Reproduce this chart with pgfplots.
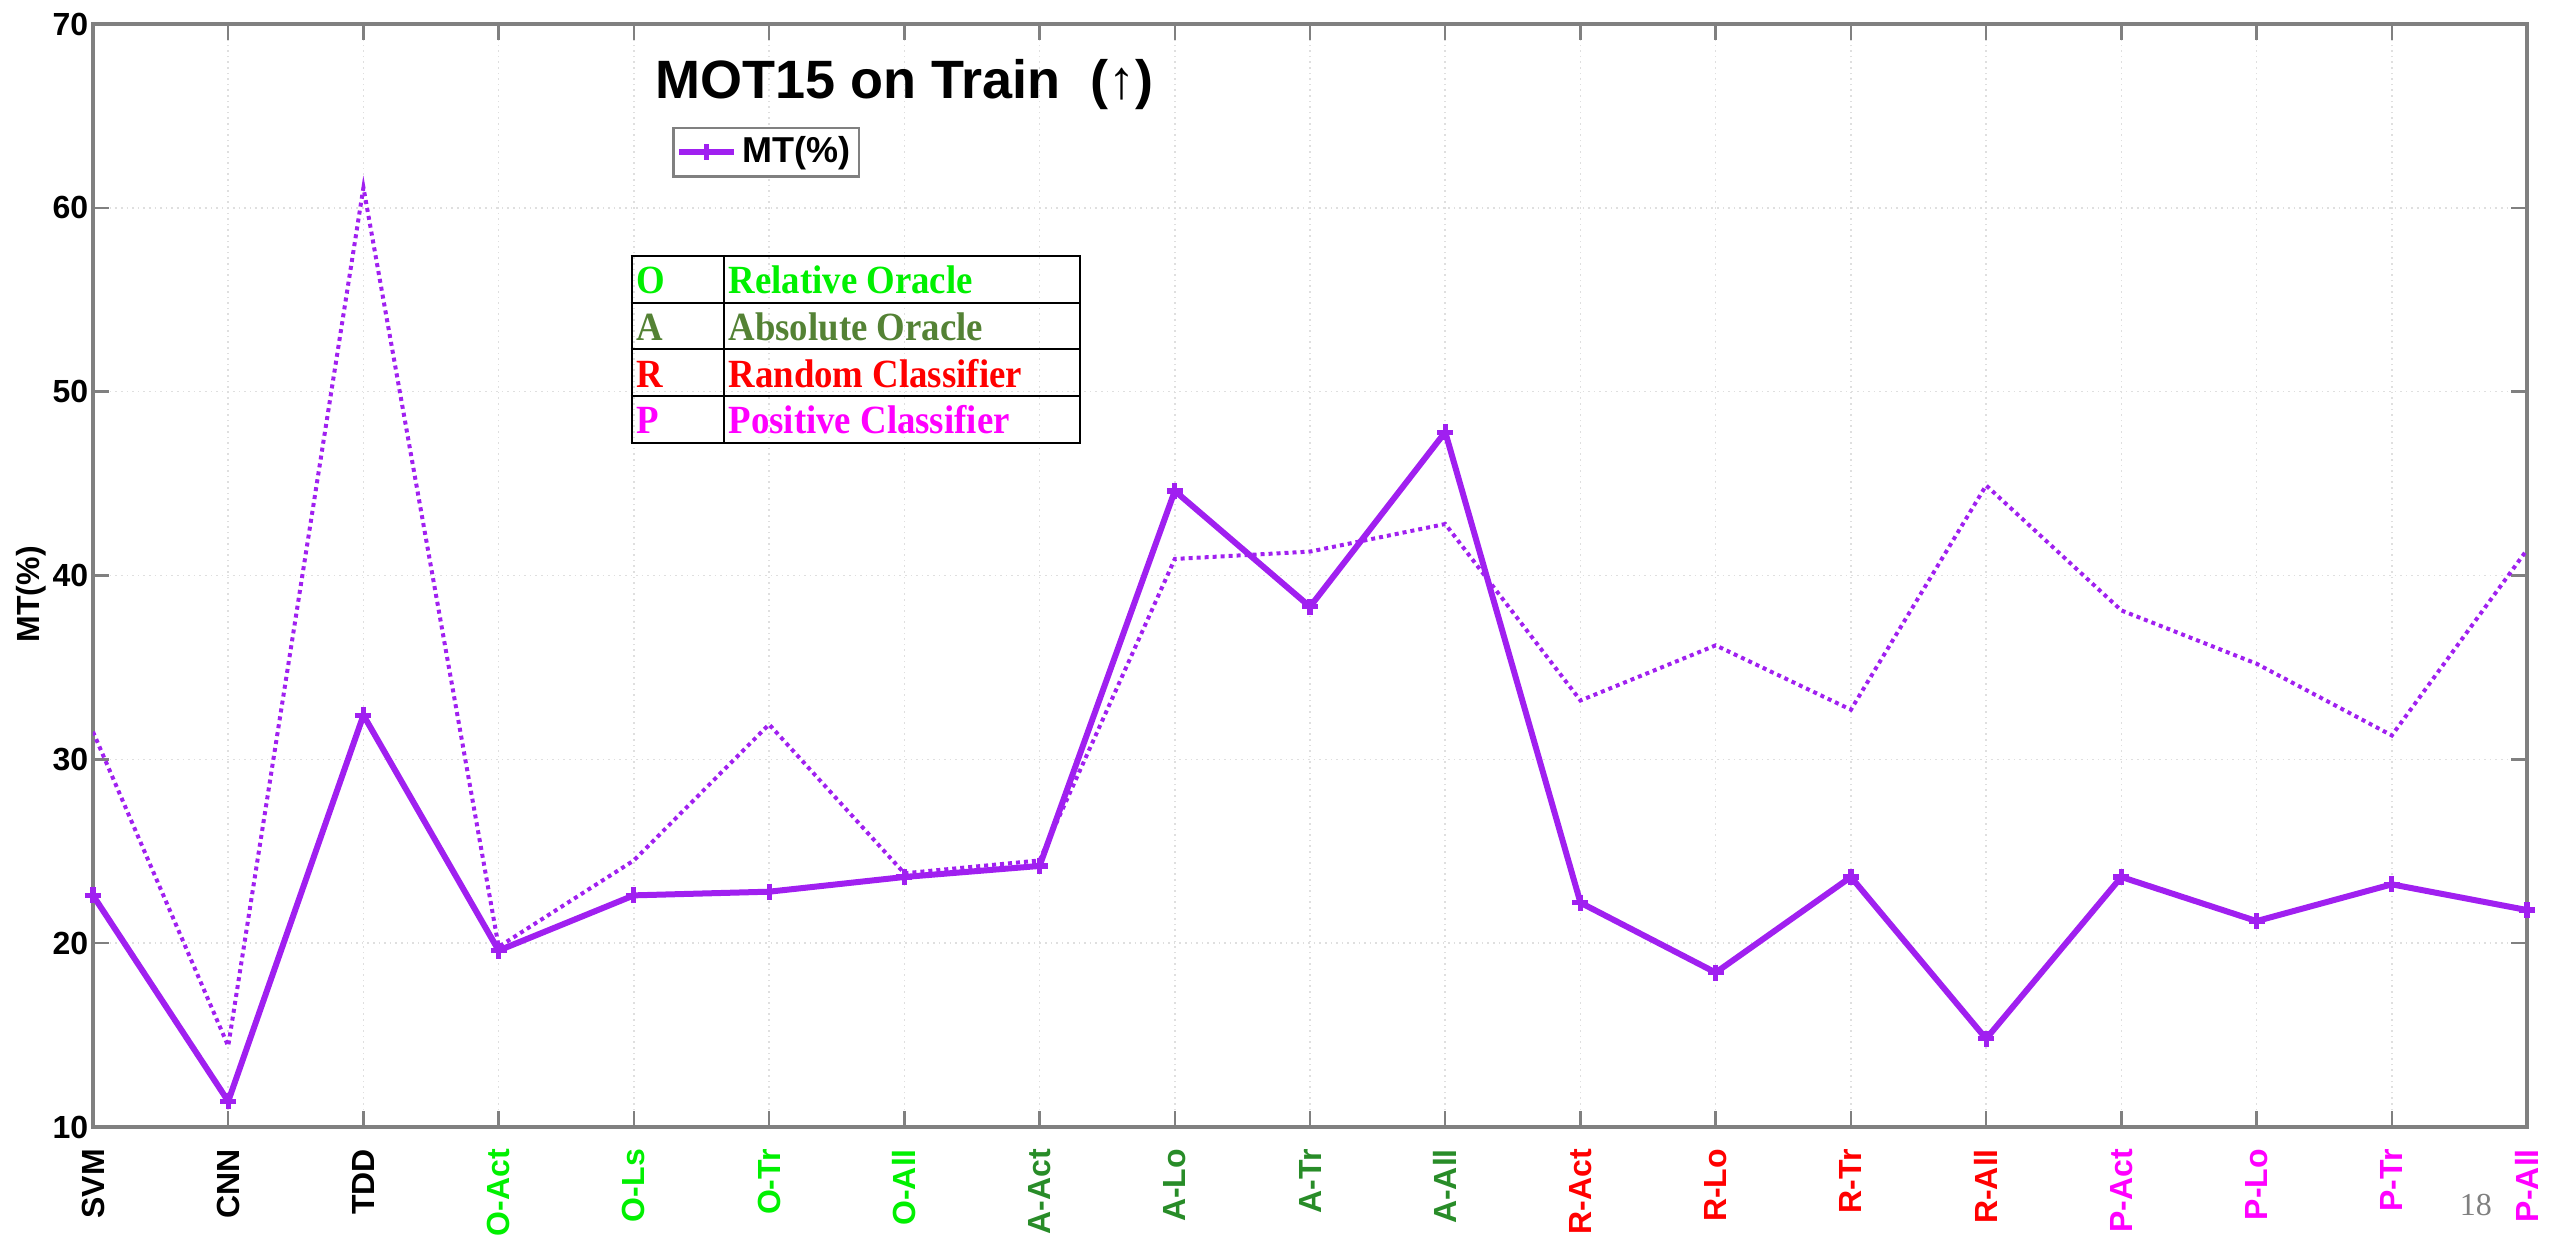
\documentclass[border=0pt]{standalone}
\usepackage{fontspec}
\setmainfont{Liberation Sans}
\newfontfamily\tnr[FakeStretch=0.92]{Liberation Serif}
\newfontfamily\tnrplain{Liberation Serif}
\usepackage{pgfplots}
\pgfplotsset{compat=1.18}
\usepackage{array}
\definecolor{lineP}{RGB}{160,32,240}
\definecolor{cO}{RGB}{0,240,0}
\definecolor{cA}{RGB}{40,140,40}
\definecolor{cAt}{RGB}{84,130,53}
\definecolor{cR}{RGB}{255,0,0}
\definecolor{cP}{RGB}{255,0,255}
\definecolor{axgray}{RGB}{128,128,128}

\pgfplotstableread{
x y
0 22.6
1 11.4
2 32.4
3 19.6
4 22.6
5 22.8
6 23.6
7 24.2
8 44.6
9 38.3
10 47.8
11 22.2
12 18.4
13 23.6
14 14.8
15 23.6
16 21.2
17 23.2
18 21.8
}\solid

\pgfplotstableread{
x y
0 31.5
1 14.4
2 61.1
3 19.8
4 24.5
5 31.9
6 23.8
7 24.5
8 40.9
9 41.3
10 42.8
11 33.2
12 36.2
13 32.7
14 44.9
15 38.1
16 35.2
17 31.3
18 41.4
}\dotted

\begin{document}
\begin{tikzpicture}
\begin{axis}[
  at={(0,0)}, anchor=south west,
  scale only axis, width=608.5pt, height=275.75pt,
  xmin=0, xmax=18, ymin=10, ymax=70,
  xtick={0,...,18},
  xticklabels={SVM,CNN,TDD,
    \textcolor{cO}{O-Act},\textcolor{cO}{O-Ls},\textcolor{cO}{O-Tr},\textcolor{cO}{O-All},
    \textcolor{cA}{A-Act},\textcolor{cA}{A-Lo},\textcolor{cA}{A-Tr},\textcolor{cA}{A-All},
    \textcolor{cR}{R-Act},\textcolor{cR}{R-Lo},\textcolor{cR}{R-Tr},\textcolor{cR}{R-All},
    \textcolor{cP}{P-Act},\textcolor{cP}{P-Lo},\textcolor{cP}{P-Tr},\textcolor{cP}{P-All}},
  x tick label style={rotate=90, anchor=east, xshift=-2pt, font=\bfseries\fontsize{8}{9}\selectfont},
  ytick={10,20,...,70},
  y tick label style={font=\bfseries\fontsize{8}{9}\selectfont, inner sep=1pt},
  /pgf/number format/assume math mode=true,
  ylabel={\bfseries MT(\%)},
  ylabel style={font=\fontsize{8}{9}\selectfont, at={(axis description cs:-0.0255,0.483)}, anchor=center},
  grid=major, grid style={gray!25, densely dotted, line width=0.4pt},
  tick align=inside, major tick length=4pt,
  axis line style={axgray, line width=0.8pt},
  tick style={axgray, line width=0.6pt},
  legend style={at={(rel axis cs:0.238,0.907)}, anchor=north west, draw=axgray,
    font=\bfseries\fontsize{9}{10.5}\selectfont, inner sep=0.6pt, line width=0.6pt,
    nodes={inner sep=1.5pt}},
  legend cell align=left,
  legend image code/.code={\draw[mark repeat=2,mark phase=2] plot coordinates {(0cm,0cm) (0.24cm,0cm) (0.48cm,0cm)};},
]
\addplot[lineP, line width=1.5pt, mark=+, mark size=2pt, mark options={line width=1.3pt}] table[x=x,y=y] {\solid};
\addlegendentry{MT(\%)}
\addplot[lineP, line width=1pt, densely dotted, forget plot] table[x=x,y=y] {\dotted};

\node[anchor=base, font=\bfseries\fontsize{13.5}{16}\selectfont] at (axis cs:6,65.97) {MOT15 on Train\ \ (↑)};

\node[anchor=north west, inner sep=0pt, font=\tnr\bfseries\fontsize{10}{12}\selectfont] at (axis cs:3.97,57.49) {%
  \setlength\tabcolsep{1pt}\setlength\arrayrulewidth{0.5pt}\renewcommand\arraystretch{0}%
  \begin{tabular}{|p{20.5pt}|p{86.5pt}|}
  \hline
  \rule[-2pt]{0pt}{11.2pt}\textcolor{cO}{O} & \textcolor{cO}{Relative Oracle}\\ \hline
  \rule[-2pt]{0pt}{11.2pt}\textcolor{cAt}{A} & \textcolor{cAt}{Absolute Oracle}\\ \hline
  \rule[-2pt]{0pt}{11.2pt}\textcolor{cR}{R} & \textcolor{cR}{Random Classifier}\\ \hline
  \rule[-2pt]{0pt}{11.2pt}\textcolor{cP}{P} & \textcolor{cP}{Positive Classifier}\\ \hline
  \end{tabular}};
\end{axis}
\node[anchor=center, font=\tnrplain\fontsize{8}{9}\selectfont, text=gray] at (595.7pt,-19.5pt) {18};
\pgfresetboundingbox
\path[use as bounding box] (-23.25pt,-28pt) rectangle (615.25pt,281.75pt);
\end{tikzpicture}
\end{document}
